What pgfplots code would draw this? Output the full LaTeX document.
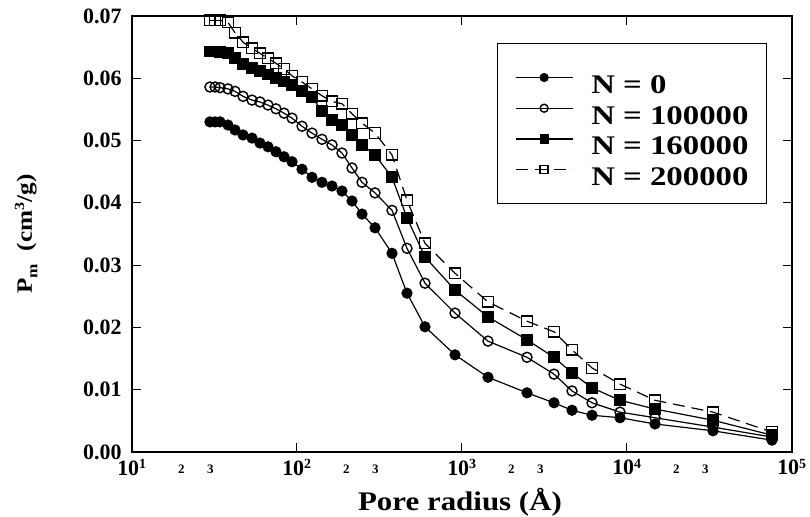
\documentclass[border=0pt]{standalone}
\usepackage{fontspec}
\setmainfont{Liberation Serif}
\newfontfamily\widefont{Liberation Serif}[FakeStretch=1.15]
\newfontfamily\legfont{Liberation Serif}[FakeStretch=1.22]
\usepackage{pgfplots}
\pgfplotsset{compat=1.18}
\newcommand\supx[1]{\raisebox{0.3em}{\fontsize{14}{14}\selectfont #1}}
\begin{document}
\begin{tikzpicture}
\begin{axis}[
  scale only axis, width=660bp, height=436bp,
  xmode=log, xmin=10, xmax=100000,
  ymin=0, ymax=0.07,
  scaled y ticks=false,
  axis line style={line width=1.6bp},
  tick style={line width=1.2bp, black},
  major tick length=9bp,
  tick align=inside,
  xminorticks=false,
  xtick={10,100,1000,10000,100000},
  xticklabels={10\supx{1},10\supx{2},10\supx{3},10\supx{4},10\supx{5}},
  extra x ticks={20,30,200,300,2000,3000,20000,30000},
  extra x tick labels={2,3,2,3,2,3,2,3},
  extra x tick style={major tick length=0pt, grid=none, xticklabel style={font=\fontsize{13}{13}\selectfont\bfseries, yshift=-6bp}},
  ytick={0,0.01,0.02,0.03,0.04,0.05,0.06,0.07},
  yticklabels={0.00,0.01,0.02,0.03,0.04,0.05,0.06,0.07},
  tick label style={font=\fontsize{22}{24}\selectfont\bfseries},
  xticklabel style={yshift=-3.7bp},
  yticklabel style={xshift=-6.7bp},
  xlabel={Pore radius (Å)},
  xlabel style={font=\widefont\bfseries\fontsize{27}{30}\selectfont, at={(axis description cs:0.4974,-0.1147)}, anchor=center},
  ylabel={P\raisebox{-0.25em}{\fontsize{15}{15}\selectfont m}\ \ (cm\raisebox{0.35em}{\fontsize{14}{14}\selectfont 3}/g)},
  ylabel style={font=\widefont\bfseries\fontsize{22}{24}\selectfont, at={(axis description cs:-0.160,0.5)}, anchor=center},
  legend style={at={(rel axis cs:0.9626,0.938)}, anchor=north east, draw=black, line width=1bp, fill=white,
    inner xsep=18bp, inner ysep=0bp, row sep=-37.3bp, column sep=18bp,
    nodes={inner sep=0bp, text height=50bp, text depth=18bp},
    font=\legfont\bfseries\fontsize{27}{27}\selectfont},
  legend cell align=left,
  legend image code/.code={\draw[mark repeat=2,mark phase=2,#1, mark size=4bp] plot coordinates {(0bp,0bp) (28.5bp,0bp) (57bp,0bp)};},
]
\addplot[black, line width=1.2bp, mark=*, mark size=5bp, mark options={solid}] table {
x y
29.8 0.0530
32.0 0.0530
34.3 0.0530
38.3 0.0525
42.3 0.0517
47.3 0.0509
53.6 0.0504
59.9 0.0496
67.0 0.0490
74.9 0.0482
83.8 0.0474
93.7 0.0466
107.7 0.0454
123.8 0.0441
142.3 0.0433
163.7 0.0427
188.2 0.0419
216.4 0.0403
248.8 0.0382
298.3 0.0360
378.1 0.0319
466.1 0.0255
599.4 0.0201
910.9 0.0156
1443 0.0120
2488 0.0095
3626 0.0079
4662 0.0067
6163 0.0059
9109 0.0055
14845 0.0045
33340 0.0034
75960 0.0019
};
\addlegendentry{N = 0}
\addplot[black, line width=1.2bp, mark=o, mark size=5bp, mark options={solid, line width=1.4bp}] table {
x y
29.8 0.0586
32.0 0.0586
34.3 0.0585
38.3 0.0583
42.3 0.0579
47.3 0.0571
53.6 0.0565
59.9 0.0562
67.0 0.0557
74.9 0.0551
83.8 0.0544
93.7 0.0536
107.7 0.0523
123.8 0.0512
142.3 0.0502
163.7 0.0493
188.2 0.0480
216.4 0.0456
248.8 0.0433
298.3 0.0416
378.1 0.0388
466.1 0.0327
599.4 0.0271
910.9 0.0223
1443 0.0178
2488 0.0152
3626 0.0125
4662 0.0098
6163 0.0079
9109 0.0064
14845 0.0055
33340 0.0040
75960 0.0024
};
\addlegendentry{N = 100000}
\addplot[black, line width=1.2bp, mark=square*, mark size=5.3bp, mark options={solid}] table {
x y
29.8 0.0643
32.0 0.0643
34.3 0.0642
38.3 0.0640
42.3 0.0632
47.3 0.0623
53.6 0.0616
59.9 0.0612
67.0 0.0606
74.9 0.0600
83.8 0.0595
93.7 0.0589
107.7 0.0579
123.8 0.0570
142.3 0.0547
163.7 0.0533
188.2 0.0525
216.4 0.0509
248.8 0.0493
298.3 0.0477
378.1 0.0441
466.1 0.0376
599.4 0.0313
910.9 0.0260
1443 0.0217
2488 0.0180
3626 0.0152
4662 0.0127
6163 0.0103
9109 0.0083
14845 0.0069
33340 0.0051
75960 0.0027
};
\addlegendentry{N = 160000}
\addplot[black, line width=1.2bp, dash pattern=on 12bp off 7bp, mark=square, mark size=5.3bp, mark options={solid, line width=1.4bp}] table {
x y
29.8 0.0693
32.0 0.0693
34.3 0.0693
38.3 0.0690
42.3 0.0673
47.3 0.0658
53.6 0.0648
59.9 0.0640
67.0 0.0632
74.9 0.0624
83.8 0.0615
93.7 0.0604
107.7 0.0594
123.8 0.0583
142.3 0.0572
163.7 0.0563
188.2 0.0559
216.4 0.0543
248.8 0.0528
298.3 0.0512
378.1 0.0477
466.1 0.0404
599.4 0.0335
910.9 0.0287
1443 0.0241
2488 0.0210
3626 0.0193
4662 0.0164
6163 0.0135
9109 0.0109
14845 0.0083
33340 0.0064
75960 0.0032
};
\addlegendentry{N = 200000}
\end{axis}
\pgfresetboundingbox
\path[use as bounding box] (-131.7bp,-65bp) rectangle (678.3bp,452bp);
\end{tikzpicture}
\end{document}
